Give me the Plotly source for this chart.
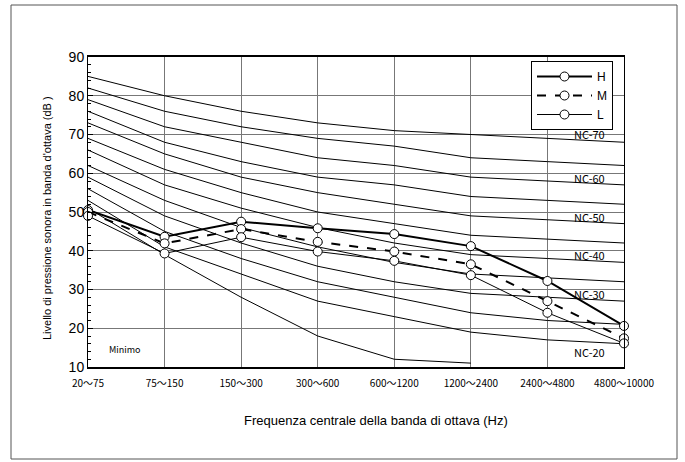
import plotly.graph_objects as go

bands = ["20～75", "75～150", "150～300", "300～600", "600～1200",
         "1200～2400", "2400～4800", "4800～10000"]
xpos = list(range(len(bands)))

# NC curves (dB)
nc20 = [53, 41, 34, 27, 23, 19, 17, 16]
nc25 = [56, 45, 38, 32, 28, 24, 22, 21]
nc30 = [59, 49, 42, 36, 32, 29, 28, 27]
nc35 = [62, 53, 46, 41, 37, 34, 33, 32]
nc40 = [66, 57, 51, 46, 42, 39, 38, 37]
nc45 = [69, 61, 55, 50, 47, 44, 43, 42]
nc50 = [73, 65, 59, 55, 52, 49, 48, 47]
nc55 = [76, 68, 63, 59, 57, 54, 53, 52]
nc60 = [79, 72, 68, 64, 62, 59, 58, 57]
nc65 = [82, 76, 72, 69, 67, 64, 63, 62]
nc70 = [85, 80, 76, 73, 71, 70, 69, 68]
minimo = [51, 39, 28, 18, 12, 11]

# measured levels
H = [50.5, 43.6, 47.5, 45.8, 44.3, 41.2, 32.2, 20.6]
M = [50, 41.9, 45.6, 42.3, 39.8, 36.5, 27.0, 17.4]
L = [49, 39.3, 43.5, 39.8, 37.4, 33.7, 24.0, 16.1]

nc_labels = ["NC-70", "NC-60", "NC-50", "NC-40", "NC-30", "NC-20"]
nc_label_y = [70.1, 58.8, 48.7, 38.9, 28.8, 13.9]

fig = go.Figure()

for curve in [nc20, nc25, nc30, nc35, nc40, nc45, nc50, nc55, nc60, nc65, nc70]:
    fig.add_trace(go.Scatter(x=xpos, y=curve, mode="lines",
                             line=dict(color="black", width=1),
                             showlegend=False, hoverinfo="skip"))
fig.add_trace(go.Scatter(x=xpos[:len(minimo)], y=minimo, mode="lines",
                         line=dict(color="black", width=1),
                         showlegend=False, hoverinfo="skip"))

mk = dict(symbol="circle", size=9, color="white", line=dict(color="black", width=1))
fig.add_trace(go.Scatter(x=xpos, y=H, name="H", mode="lines+markers",
                         line=dict(color="black", width=2), marker=mk, cliponaxis=False))
fig.add_trace(go.Scatter(x=xpos, y=M, name="M", mode="lines+markers",
                         line=dict(color="black", width=2, dash="dash"), marker=mk, cliponaxis=False))
fig.add_trace(go.Scatter(x=xpos, y=L, name="L", mode="lines+markers",
                         line=dict(color="black", width=1), marker=mk, cliponaxis=False))

for t, yv in zip(nc_labels, nc_label_y):
    fig.add_annotation(x=6.55, y=yv, text=t, showarrow=False,
                       font=dict(family="Noto Sans CJK JP", size=11, color="black"))
fig.add_annotation(x=0.48, y=14.4, text="Minimo", showarrow=False,
                   font=dict(family="Noto Sans CJK JP", size=9, color="black"))

fig.add_annotation(xref="paper", yref="paper", x=(376 - 88) / 536, y=(367 - 420) / 310,
                   xanchor="center", yanchor="middle",
                   text="Frequenza centrale della banda di ottava (Hz)", showarrow=False,
                   font=dict(family="Liberation Sans", size=13, color="black"))
fig.add_annotation(xref="paper", yref="paper", x=(47 - 88) / 536, y=(367 - 218) / 310,
                   xanchor="center", yanchor="middle",
                   text="Livello di pressione sonora in banda d'ottava (dB )", textangle=-90,
                   showarrow=False, font=dict(family="Liberation Sans", size=11, color="black"))

# outer frame
fig.add_shape(type="rect", xref="paper", yref="paper",
              x0=(11 - 88) / 536, x1=(677 - 88) / 536,
              y0=(367 - 459) / 310, y1=(367 - 5) / 310,
              line=dict(color="#555555", width=1))

fig.update_xaxes(range=[0, 7], tickvals=xpos, ticktext=bands, showgrid=True,
                 gridcolor="#777777", gridwidth=1, showline=True, linecolor="black",
                 linewidth=2, mirror=True, ticks="", zeroline=False, ticklabelstandoff=6,
                 tickfont=dict(family="Noto Sans CJK JP", size=10, color="black"))
fig.update_yaxes(range=[10, 90], dtick=10, showgrid=True, gridcolor="#777777",
                 gridwidth=1, showline=True, linecolor="black", linewidth=1,
                 mirror=True, ticks="inside", ticklen=5, tickcolor="black",
                 minor=dict(dtick=2, ticks="inside", ticklen=3, tickcolor="black"),
                 zeroline=False,
                 tickfont=dict(family="Liberation Sans", size=14, color="black"))

fig.update_layout(
    width=685, height=462,
    margin=dict(l=88, r=61, t=57, b=95),
    paper_bgcolor="white", plot_bgcolor="white",
    legend=dict(x=(531 - 88) / 536, y=(367 - 61) / 310, xanchor="left", yanchor="top",
                bgcolor="white", bordercolor="black", borderwidth=1,
                font=dict(family="Liberation Sans", size=12, color="black"),
                itemwidth=55),
)

fig.write_html("out.html", config={"displayModeBar": False},
               post_script="document.body.style.margin='0px';")
